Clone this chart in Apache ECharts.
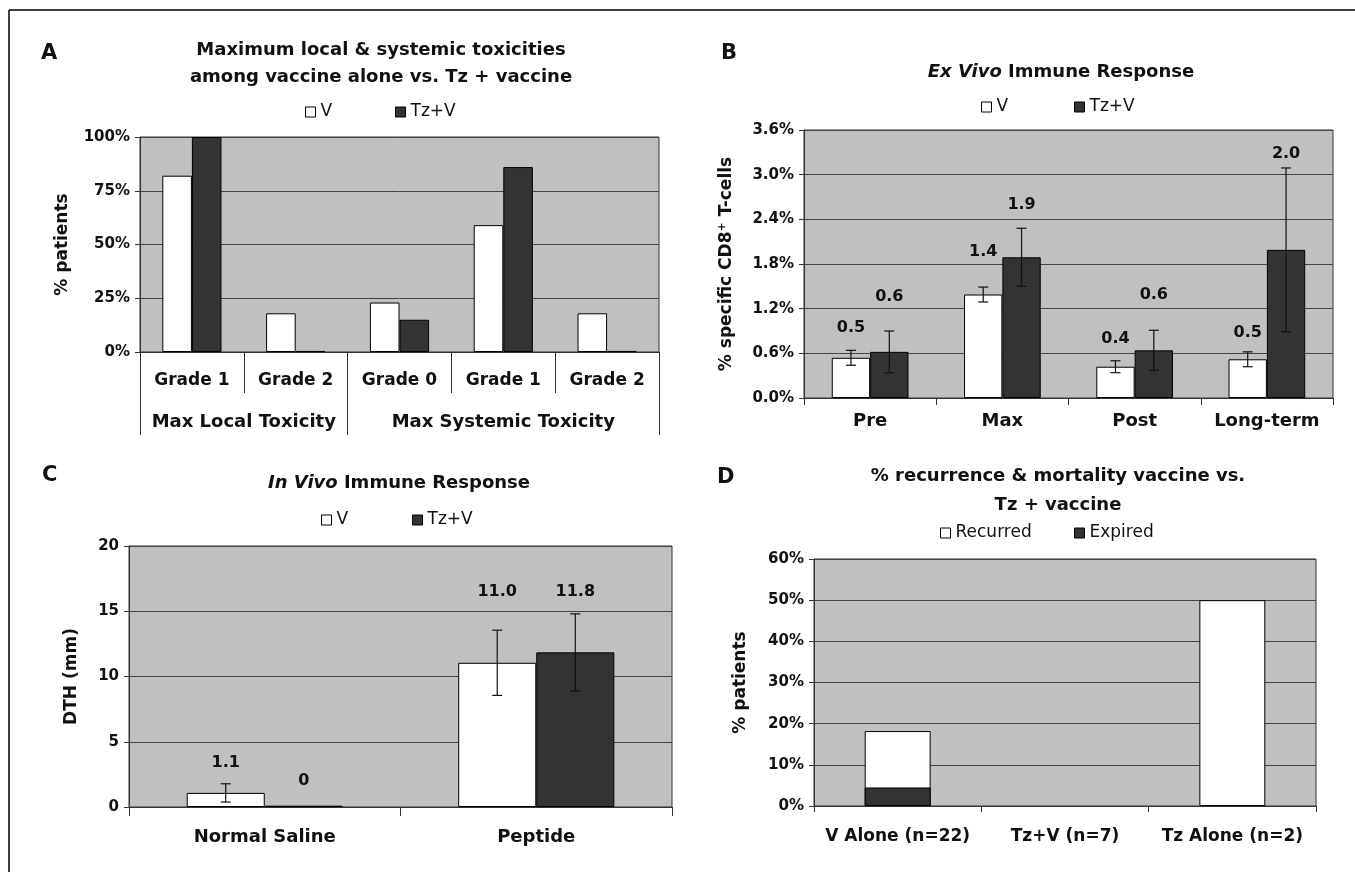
<!DOCTYPE html>
<html><head><meta charset="utf-8">
<script src="https://cdn.jsdelivr.net/npm/echarts@6/dist/echarts.min.js"></script>
<style>html,body{margin:0;padding:0;background:#fff}#c{width:1355px;height:872px}</style>
</head><body><div id="c"></div>
<script>
// ---------- Panel A data ----------
const aCategories = ['Grade 1', 'Grade 2', 'Grade 0', 'Grade 1', 'Grade 2'];
const aGroups = ['Max Local Toxicity', 'Max Systemic Toxicity'];
const aGroupSpans = [2, 3];
const aV = [82, 18, 23, 59, 18];
const aTzV = [100, 0.5, 15, 86, 0.5];

// ---------- Panel B data ----------
const bCategories = ['Pre', 'Max', 'Post', 'Long-term'];
const bV = [0.54, 1.39, 0.42, 0.52];
const bVErr = [0.10, 0.10, 0.08, 0.10];
const bTzV = [0.62, 1.89, 0.64, 1.99];
const bTzVErr = [0.28, 0.39, 0.27, 1.10];
const bVLabels = ['0.5', '1.4', '0.4', '0.5'];
const bTzVLabels = ['0.6', '1.9', '0.6', '2.0'];
const bVLabelY = [0.94, 1.96, 0.80, 0.87];
const bTzVLabelY = [1.36, 2.59, 1.38, 3.28];

// ---------- Panel C data ----------
const cCategories = ['Normal Saline', 'Peptide'];
const cV = [1.08, 11.05];
const cVErr = [0.7, 2.5];
const cTzV = [0.1, 11.85];
const cTzVErr = [0, 2.95];
const cVLabels = ['1.1', '11.0'];
const cTzVLabels = ['0', '11.8'];
const cVLabelY = [3.4, 16.5];
const cTzVLabelY = [2.0, 16.5];

// ---------- Panel D data ----------
const dCategories = ['V Alone (n=22)', 'Tz+V (n=7)', 'Tz Alone (n=2)'];
const dRecurred = [18.2, 0, 50];
const dExpired = [4.5, 0, 0];

// ---------- styling ----------
const FF = 'DejaVu Sans';
const TXT = '#111';
const GRID_BG = '#c0c0c0';
const LINE = '#333';
const GRIDLINE = '#444';
const WHITE_BAR = {color: '#ffffff', borderColor: '#000', borderWidth: 1};
const DARK_BAR = {color: '#333333', borderColor: '#000', borderWidth: 1};

const boldTxt = (size) => ({fontFamily: FF, fontWeight: 'bold', fontSize: size, color: TXT});
const hideZero = (arr) => arr.map(v => (v === 0 ? '-' : v));

function catAxis(gridIndex, data, margin, tickLen, fontSize) {
  return {
    type: 'category', gridIndex, data,
    axisLine: {show: true, lineStyle: {color: LINE, width: 1}},
    axisTick: {show: true, length: tickLen, lineStyle: {color: LINE}},
    axisLabel: Object.assign(boldTxt(fontSize), {margin, interval: 0}),
    splitLine: {show: false}
  };
}
function valAxis(gridIndex, max, interval, fmt, name, nameGap) {
  return {
    type: 'value', gridIndex, min: 0, max, interval,
    axisLine: {show: true, lineStyle: {color: LINE}},
    axisTick: {show: true, length: 5, lineStyle: {color: LINE}},
    axisLabel: Object.assign(boldTxt(15), {formatter: fmt, margin: 10}),
    splitLine: {show: true, lineStyle: {color: GRIDLINE, width: 1}},
    name, nameLocation: 'middle', nameRotate: 90, nameGap,
    nameTextStyle: Object.assign(boldTxt(17), {
      rich: {sup: {fontFamily: FF, fontWeight: 'bold', fontSize: 11, color: TXT, verticalAlign: 'top', padding: [0, 0, 8, 0]},
             n: {fontFamily: FF, fontWeight: 'bold', fontSize: 17, color: TXT}}
    })
  };
}

function errSeries(xi, yi, vals, errs, labels, labelY, side, gap, fontSize) {
  return {
    type: 'custom', xAxisIndex: xi, yAxisIndex: yi, z: 5, silent: true,
    data: vals.map((v, i) => [i, v, errs ? errs[i] : 0, labelY[i]]),
    renderItem: function (params, api) {
      const i = api.value(0), v = api.value(1), e = api.value(2), ly = api.value(3);
      const band = api.size([1, 0])[0];
      const bw = band * (1 - gap) / 2;
      const cx = api.coord([i, 0])[0] + side * bw / 2;
      const children = [];
      const st = {stroke: '#111', lineWidth: 1.2};
      if (e > 0) {
        const yT = api.coord([i, v + e])[1], yB = api.coord([i, v - e])[1];
        children.push({type: 'line', shape: {x1: cx, y1: yT, x2: cx, y2: yB}, style: st});
        children.push({type: 'line', shape: {x1: cx - 5, y1: yT, x2: cx + 5, y2: yT}, style: st});
        children.push({type: 'line', shape: {x1: cx - 5, y1: yB, x2: cx + 5, y2: yB}, style: st});
      }
      const ty = api.coord([i, ly])[1];
      children.push({type: 'text', x: cx, y: ty, style: {
        text: labels[params.dataIndex], align: 'center', verticalAlign: 'middle',
        font: 'bold ' + fontSize + 'px "' + FF + '"', fill: TXT}});
      return {type: 'group', children};
    }
  };
}

// group axis positions for panel A
const aBounds = [0];
aGroupSpans.forEach(s => aBounds.push(aBounds[aBounds.length - 1] + s));
const aCenters = aGroupSpans.map((s, i) => aBounds[i] + s / 2);

const legendTxt = {fontFamily: FF, fontSize: 17, color: TXT, lineHeight: 18};
function legendItem(name, left, top) {
  return {data: [name], left, top, orient: 'horizontal', itemWidth: 10, itemHeight: 10,
    icon: 'rect', padding: 0, selectedMode: false, textStyle: legendTxt,
    itemStyle: {borderColor: '#000', borderWidth: 1}};
}

const titleTxt = (size, lh) => ({fontFamily: FF, fontWeight: 'bold', fontSize: size, color: TXT, lineHeight: lh,
  rich: {i: {fontFamily: FF, fontWeight: 'bold', fontStyle: 'italic', fontSize: size, color: TXT, lineHeight: lh}}});

const option = {
  backgroundColor: '#fff',
  animation: false,
  title: [
    {text: 'A', left: 41, top: 41, padding: 0, textStyle: titleTxt(21, 25)},
    {text: 'B', left: 721, top: 41, padding: 0, textStyle: titleTxt(21, 25)},
    {text: 'C', left: 42, top: 463, padding: 0, textStyle: titleTxt(21, 25)},
    {text: 'D', left: 717, top: 465, padding: 0, textStyle: titleTxt(21, 25)},
    {text: 'Maximum local & systemic toxicities\namong vaccine alone vs. Tz + vaccine', left: 381, textAlign: 'center', top: 37, padding: 0, textStyle: titleTxt(18, 27)},
    {text: '{i|Ex Vivo} Immune Response', left: 1061, textAlign: 'center', top: 60, padding: 0, textStyle: titleTxt(18, 25)},
    {text: '{i|In Vivo} Immune Response', left: 399, textAlign: 'center', top: 471, padding: 0, textStyle: titleTxt(18, 25)},
    {text: '% recurrence & mortality vaccine vs.\nTz + vaccine', left: 1058, textAlign: 'center', top: 462, padding: 0, textStyle: titleTxt(18, 29)}
  ],
  legend: [
    legendItem('V', 305, 103), legendItem('Tz+V', 395, 103),
    legendItem('V', 981, 98), legendItem('Tz+V', 1074, 98),
    legendItem('V', 321, 511), legendItem('Tz+V', 412, 511),
    legendItem('Recurred', 940, 524), legendItem('Expired', 1074, 524)
  ],
  grid: [
    {left: 140, right: 696, top: 137, bottom: 520, show: true, backgroundColor: GRID_BG, borderColor: LINE, borderWidth: 1},
    {left: 804, right: 22, top: 130, bottom: 474, show: true, backgroundColor: GRID_BG, borderColor: LINE, borderWidth: 1},
    {left: 129, right: 683, top: 546, bottom: 65, show: true, backgroundColor: GRID_BG, borderColor: LINE, borderWidth: 1},
    {left: 814, right: 39, top: 559, bottom: 66, show: true, backgroundColor: GRID_BG, borderColor: LINE, borderWidth: 1}
  ],
  xAxis: [
    catAxis(0, aCategories, 20, 41, 17),
    {
      type: 'value', gridIndex: 0, min: aBounds[0], max: aBounds[aBounds.length - 1], position: 'bottom',
      axisLine: {show: false}, splitLine: {show: false},
      axisTick: {show: true, customValues: aBounds, length: 83, lineStyle: {color: LINE}},
      axisLabel: Object.assign(boldTxt(18), {customValues: aCenters, margin: 61,
        formatter: (v) => aGroups[aCenters.indexOf(v)] || ''})
    },
    catAxis(1, bCategories, 14, 7, 18),
    catAxis(2, cCategories, 21, 9, 18),
    catAxis(3, dCategories, 22, 6, 17)
  ],
  yAxis: [
    valAxis(0, 100, 25, '{value}%', '% patients', 69),
    valAxis(1, 3.6, 0.6, (v) => v.toFixed(1) + '%', '{n|% specific CD8}{sup|+}{n| T-cells}', 68),
    valAxis(2, 20, 5, '{value}', 'DTH (mm)', 49),
    valAxis(3, 60, 10, '{value}%', '% patients', 65)
  ],
  series: [
    {type: 'bar', name: 'V', xAxisIndex: 0, yAxisIndex: 0, data: aV, barGap: '0%', barCategoryGap: '43%', itemStyle: WHITE_BAR},
    {type: 'bar', name: 'Tz+V', xAxisIndex: 0, yAxisIndex: 0, data: aTzV, barGap: '0%', barCategoryGap: '43%', itemStyle: DARK_BAR},

    {type: 'bar', name: 'V', xAxisIndex: 2, yAxisIndex: 1, data: bV, barGap: '0%', barCategoryGap: '42%', itemStyle: WHITE_BAR},
    {type: 'bar', name: 'Tz+V', xAxisIndex: 2, yAxisIndex: 1, data: bTzV, barGap: '0%', barCategoryGap: '42%', itemStyle: DARK_BAR},
    errSeries(2, 1, bV, bVErr, bVLabels, bVLabelY, -1, 0.42, 16),
    errSeries(2, 1, bTzV, bTzVErr, bTzVLabels, bTzVLabelY, 1, 0.42, 16),

    {type: 'bar', name: 'V', xAxisIndex: 3, yAxisIndex: 2, data: cV, barGap: '0%', barCategoryGap: '42.5%', itemStyle: WHITE_BAR},
    {type: 'bar', name: 'Tz+V', xAxisIndex: 3, yAxisIndex: 2, data: cTzV, barGap: '0%', barCategoryGap: '42.5%', itemStyle: DARK_BAR},
    errSeries(3, 2, cV, cVErr, cVLabels, cVLabelY, -1, 0.425, 16),
    errSeries(3, 2, cTzV, cTzVErr, cTzVLabels, cTzVLabelY, 1, 0.425, 16),

    {type: 'bar', name: 'Recurred', xAxisIndex: 4, yAxisIndex: 3, data: hideZero(dRecurred), barGap: '-100%', barCategoryGap: '60.6%', itemStyle: WHITE_BAR},
    {type: 'bar', name: 'Expired', xAxisIndex: 4, yAxisIndex: 3, data: hideZero(dExpired), barGap: '-100%', barCategoryGap: '60.6%', itemStyle: DARK_BAR}
  ],
  graphic: [
    {type: 'line', shape: {x1: 9, y1: 10, x2: 1355, y2: 10}, style: {stroke: '#000', lineWidth: 1.5}, silent: true},
    {type: 'line', shape: {x1: 9, y1: 10, x2: 9, y2: 872}, style: {stroke: '#000', lineWidth: 1.5}, silent: true}
  ]
};

const chart = echarts.init(document.getElementById('c'), null, {renderer: 'canvas'});
chart.setOption(option);
</script>
</body></html>
